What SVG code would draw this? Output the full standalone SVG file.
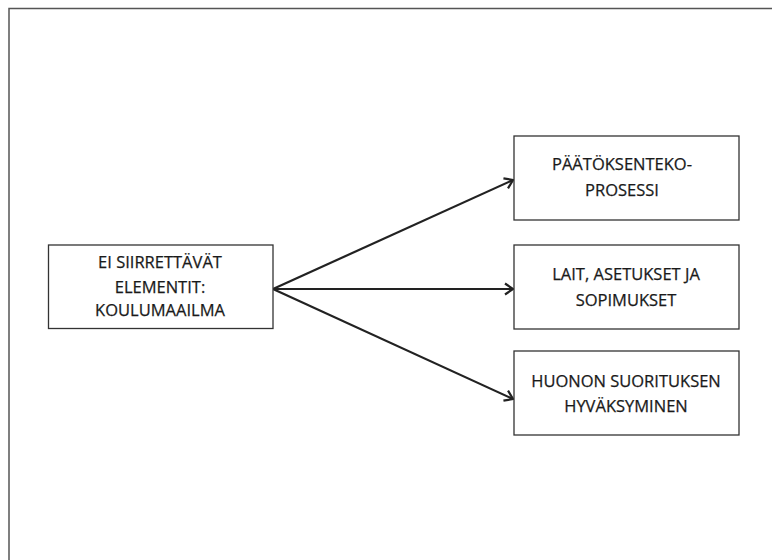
<svg xmlns="http://www.w3.org/2000/svg" width="772" height="560" viewBox="0 0 772 560">
  <style>
    .frame { fill: none; stroke: #555; stroke-width: 1.5; }
    .box { fill: #fff; stroke: #333; stroke-width: 1.3; }
    .label { font-family: "Open Sans", "Liberation Sans", sans-serif; font-size: 16.5px; fill: #1a1a1a; stroke: #1a1a1a; stroke-width: 0.25; text-anchor: middle; }
    .arrow { fill: none; stroke: #222; stroke-width: 2.2; marker-end: url(#chev); }
  </style>
  <defs>
    <marker id="chev" markerUnits="userSpaceOnUse" markerWidth="16" markerHeight="16" refX="12" refY="8" orient="auto">
      <path d="M4,2.5 L12,8 L4,13.5" fill="none" stroke="#222" stroke-width="2.2"/>
    </marker>
  </defs>
  <rect width="772" height="560" fill="#fff"/>
  <!-- page frame, running past the right and bottom edges -->
  <path class="frame" d="M9,580 V8.5 H790"/>

  <g id="connectors">
    <line class="arrow" x1="273" y1="289" x2="513" y2="180"/>
    <line class="arrow" x1="273" y1="289" x2="513" y2="289"/>
    <line class="arrow" x1="273" y1="289" x2="513" y2="399"/>
  </g>

  <g id="source">
    <rect class="box" x="48.5" y="245" width="224.5" height="83.5"/>
    <text class="label" x="160" y="268">EI SIIRRETTÄVÄT</text>
    <text class="label" x="160" y="292.5">ELEMENTIT:</text>
    <text class="label" x="160" y="316">KOULUMAAILMA</text>
  </g>

  <g id="decision">
    <rect class="box" x="514" y="136" width="225" height="84"/>
    <text class="label" x="622" y="169.5">PÄÄTÖKSENTEKO-</text>
    <text class="label" x="622" y="196">PROSESSI</text>
  </g>

  <g id="laws">
    <rect class="box" x="514" y="245" width="225" height="84"/>
    <text class="label" x="626" y="279.5">LAIT, ASETUKSET JA</text>
    <text class="label" x="626" y="306">SOPIMUKSET</text>
  </g>

  <g id="acceptance">
    <rect class="box" x="514" y="351" width="225" height="84"/>
    <text class="label" x="626" y="386.5">HUONON SUORITUKSEN</text>
    <text class="label" x="626" y="411.5">HYVÄKSYMINEN</text>
  </g>
</svg>
